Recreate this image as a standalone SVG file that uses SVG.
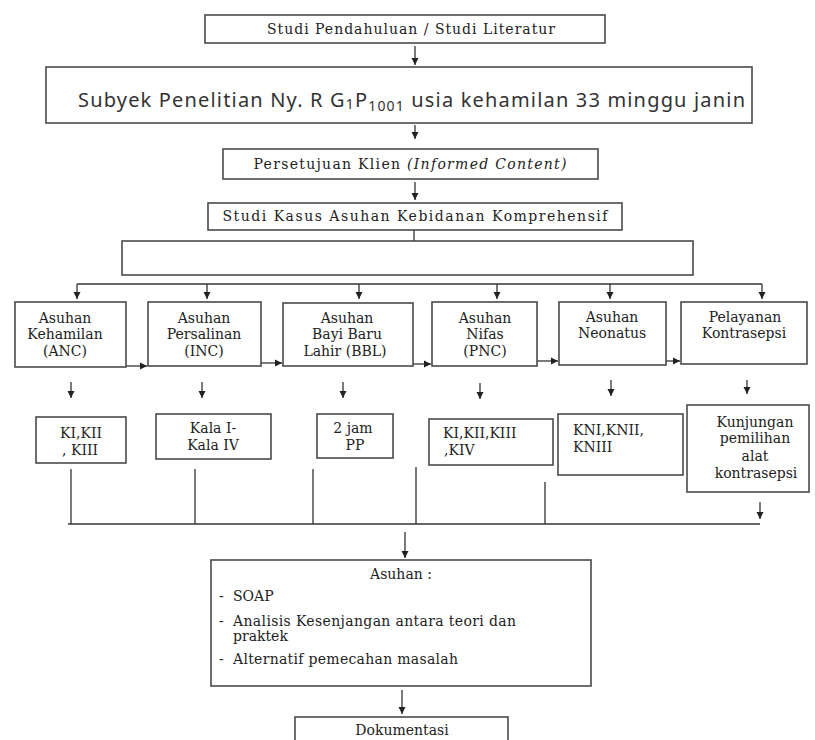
<svg xmlns="http://www.w3.org/2000/svg" width="815" height="740" viewBox="0 0 815 740">
<style>
.box{fill:#fff;stroke:#4a4a4a;stroke-width:1.6}
.t{font-family:"DejaVu Serif","Liberation Serif",serif;font-size:14px;fill:#222}
.c{text-anchor:middle}
.big{font-family:"Noto Sans","Open Sans",sans-serif;font-size:20px;fill:#333}
.ln{fill:none;stroke:#333;stroke-width:1.3}
.ar{fill:none;stroke:#333;stroke-width:1.3;marker-end:url(#ah)}
</style>
<defs>
<marker id="ah" markerUnits="userSpaceOnUse" markerWidth="8" markerHeight="8" refX="7" refY="4" orient="auto">
<path d="M0,0.5 L7,4 L0,7.5 z" fill="#222"/>
</marker>
</defs>
<rect width="815" height="740" fill="#fff"/>

<g id="connectors">
<path class="ar" d="M415,46 V65"/>
<path class="ar" d="M415,125 V139"/>
<path class="ar" d="M415,182 V200"/>
<path class="ln" d="M414,229 V266"/>
<path class="ln" d="M77,284 H762"/>
<path class="ar" d="M77,284 V299"/>
<path class="ar" d="M207,284 V299"/>
<path class="ar" d="M359,284 V299"/>
<path class="ar" d="M497,284 V299"/>
<path class="ar" d="M610,284 V299"/>
<path class="ar" d="M762,284 V299"/>
<path class="ar" d="M126,366 H147"/>
<path class="ar" d="M261,363 H282"/>
<path class="ar" d="M413,364 H431"/>
<path class="ar" d="M537,361 H558"/>
<path class="ar" d="M666,361 H680"/>
<path class="ar" d="M71,382 V398"/>
<path class="ar" d="M202,382 V398"/>
<path class="ar" d="M343,382 V398"/>
<path class="ar" d="M480,383 V399"/>
<path class="ar" d="M611,380 V396"/>
<path class="ar" d="M747,380 V394"/>
<path class="ln" d="M71,469 V524 M195,469 V524 M313,469 V524 M416,467 V524 M545,482 V524"/>
<path class="ln" d="M68,524 H760"/>
<path class="ar" d="M760,502 V519"/>
<path class="ar" d="M405,532 V558"/>
<path class="ar" d="M402,690 V714"/>
</g>

<g id="studi-pendahuluan">
<rect class="box" x="205" y="15" width="400" height="28"/>
<text class="t c" x="411" y="34" textLength="288">Studi Pendahuluan / Studi Literatur</text>
</g>

<g id="subyek">
<rect class="box" x="46" y="67" width="706" height="56"/>
<text class="big" x="78" y="107" textLength="667">Subyek Penelitian Ny. R G<tspan font-size="14" dy="2">1</tspan><tspan dy="-2">P</tspan><tspan font-size="14" dy="4">1001</tspan><tspan dy="-4"> usia kehamilan 33 minggu janin</tspan></text>
</g>

<g id="persetujuan">
<rect class="box" x="223" y="149" width="375" height="30"/>
<text class="t c" x="410" y="169" textLength="313">Persetujuan Klien <tspan font-style="italic">(Informed Content)</tspan></text>
</g>

<g id="studi-kasus">
<rect class="box" x="208" y="203" width="414" height="27"/>
<text class="t c" x="415" y="221" textLength="385">Studi Kasus Asuhan Kebidanan Komprehensif</text>
</g>

<g id="wadah">
<rect class="box" x="122" y="241" width="571" height="34"/>
</g>

<g id="anc">
<rect class="box" x="15" y="302" width="111" height="65"/>
<text class="t c" x="65" y="323">Asuhan</text>
<text class="t c" x="65" y="339">Kehamilan</text>
<text class="t c" x="65" y="356">(ANC)</text>
</g>

<g id="inc">
<rect class="box" x="148" y="302" width="113" height="64"/>
<text class="t c" x="204" y="323">Asuhan</text>
<text class="t c" x="204" y="339">Persalinan</text>
<text class="t c" x="204" y="356">(INC)</text>
</g>

<g id="bbl">
<rect class="box" x="283" y="303" width="130" height="63"/>
<text class="t c" x="347" y="323">Asuhan</text>
<text class="t c" x="347" y="339">Bayi Baru</text>
<text class="t c" x="345" y="356">Lahir (BBL)</text>
</g>

<g id="pnc">
<rect class="box" x="432" y="302" width="105" height="64"/>
<text class="t c" x="485" y="323">Asuhan</text>
<text class="t c" x="485" y="339">Nifas</text>
<text class="t c" x="485" y="356">(PNC)</text>
</g>

<g id="neonatus">
<rect class="box" x="559" y="302" width="107" height="63"/>
<text class="t c" x="612" y="322">Asuhan</text>
<text class="t c" x="612" y="338">Neonatus</text>
</g>

<g id="kontrasepsi">
<rect class="box" x="681" y="302" width="126" height="62"/>
<text class="t c" x="745" y="322">Pelayanan</text>
<text class="t c" x="744" y="338">Kontrasepsi</text>
</g>

<g id="k-anc">
<rect class="box" x="36" y="417" width="90" height="46"/>
<text class="t c" x="81" y="438">KI,KII</text>
<text class="t c" x="80" y="455">, KIII</text>
</g>

<g id="k-inc">
<rect class="box" x="156" y="414" width="115" height="45"/>
<text class="t c" x="213" y="433">Kala I-</text>
<text class="t c" x="213" y="450">Kala IV</text>
</g>

<g id="k-bbl">
<rect class="box" x="317" y="414" width="76" height="44"/>
<text class="t c" x="353" y="433">2 jam</text>
<text class="t c" x="355" y="450">PP</text>
</g>

<g id="k-pnc">
<rect class="box" x="429" y="419" width="124" height="46"/>
<text class="t" x="443" y="438">KI,KII,KIII</text>
<text class="t" x="444" y="455">,KIV</text>
</g>

<g id="k-neonatus">
<rect class="box" x="558" y="414" width="125" height="61"/>
<text class="t" x="573" y="435">KNI,KNII,</text>
<text class="t" x="573" y="452">KNIII</text>
</g>

<g id="k-kontrasepsi">
<rect class="box" x="687" y="405" width="122" height="87"/>
<text class="t c" x="755" y="427">Kunjungan</text>
<text class="t c" x="755" y="443">pemilihan</text>
<text class="t c" x="755" y="461">alat</text>
<text class="t c" x="756" y="478">kontrasepsi</text>
</g>

<g id="asuhan">
<rect class="box" x="211" y="560" width="380" height="126"/>
<text class="t c" x="401" y="579">Asuhan :</text>
<text class="t" x="219" y="601">-</text>
<text class="t" x="233" y="601">SOAP</text>
<text class="t" x="219" y="626">-</text>
<text class="t" x="233" y="626" textLength="283">Analisis Kesenjangan antara teori dan</text>
<text class="t" x="233" y="641">praktek</text>
<text class="t" x="219" y="664">-</text>
<text class="t" x="233" y="664" textLength="225">Alternatif pemecahan masalah</text>
</g>

<g id="dokumentasi">
<rect class="box" x="295" y="717" width="213" height="32"/>
<text class="t c" x="402" y="735">Dokumentasi</text>
</g>
</svg>
